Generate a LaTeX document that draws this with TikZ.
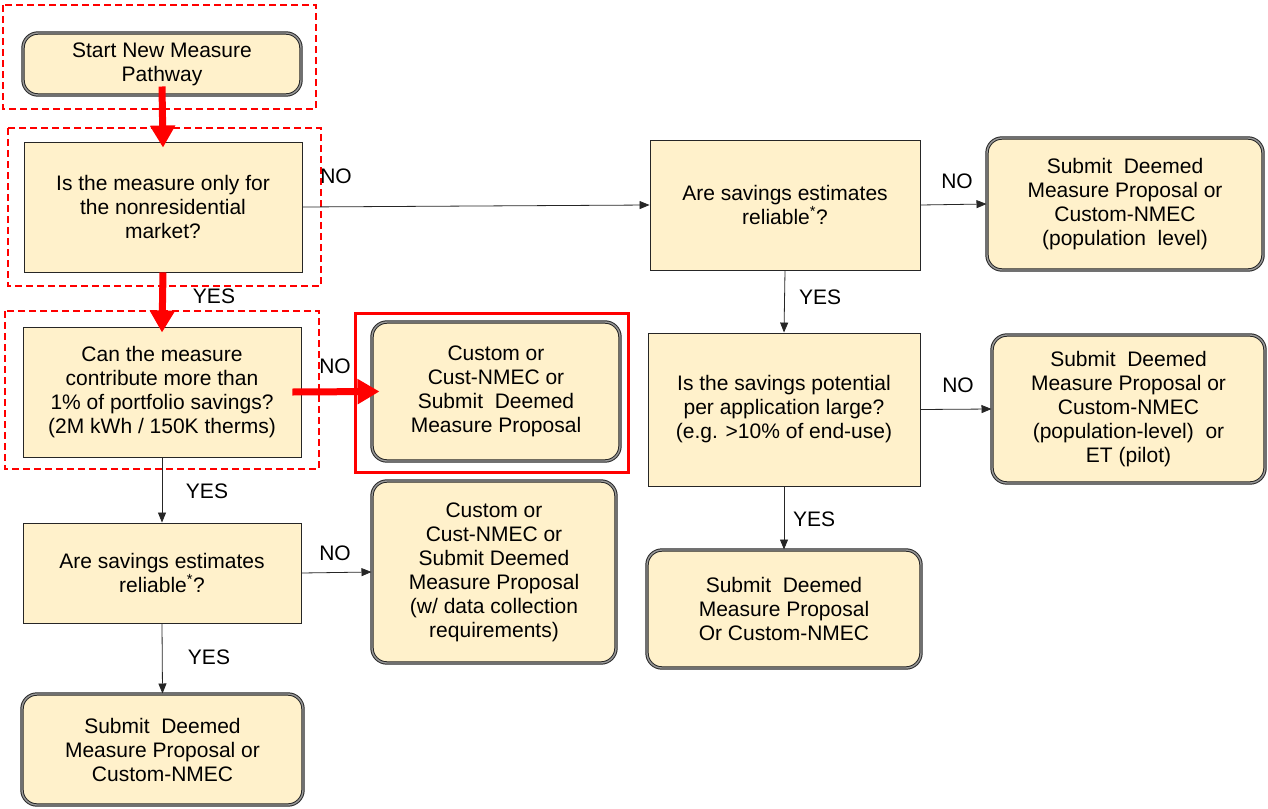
\documentclass[tikz,border=0pt]{standalone}
\usepackage{fontspec}
\setmainfont{Liberation Sans}
\usetikzlibrary{arrows.meta}
\definecolor{boxfill}{RGB}{255,241,203}
\definecolor{redline}{RGB}{255,0,0}
\tikzset{
  txt/.style={font=\fontsize{21}{24}\selectfont},
  qbox/.style={txt, rectangle, draw=black!85, line width=0.9pt, fill=boxfill, align=center, inner sep=0pt},
  rbox/.style={txt, rectangle, rounded corners=15pt, draw=black!85, double=black!40, double distance=1.4pt, line width=1pt, fill=boxfill, align=center, inner sep=0pt},
  arr/.style={draw=black!85, line width=0.8pt, -{Triangle[length=10pt,width=8pt]}},
  redarr/.style={draw=redline, line width=7pt, -{Triangle[length=22pt,width=24pt]}},
  reddash/.style={draw=redline, line width=2.4pt, dash pattern=on 7pt off 4pt},
  lbl/.style={txt, inner sep=0pt}
}
\begin{document}
\begin{tikzpicture}[x=1pt,y=-1pt]
\useasboundingbox (0,0) rectangle (1268,808);
% left column
\node[rbox, minimum width=278pt, minimum height=62pt] (start) at (162,64) {Start New Measure\\Pathway};
\node[qbox, minimum width=278pt, minimum height=130pt] (q1) at (163,207) {Is the measure only for\\the nonresidential\\market?};
\node[qbox, minimum width=278pt, minimum height=130pt] (q2) at (162,392) {Can the measure\\contribute more than\\1\% of portfolio savings?\\(2M kWh / 150K therms)};
\node[rbox, minimum width=248pt, minimum height=139pt] (c1) at (496,391.5) {Custom or\\Cust-NMEC or\\Submit\ \ Deemed\\Measure Proposal};
\node[qbox, minimum width=278pt, minimum height=100pt] (q3) at (162,573) {Are savings estimates\\reliable\textsuperscript{*}?};
\node[rbox, minimum width=244pt, minimum height=182pt] (c2) at (494,572) {Custom or\\Cust-NMEC or\\Submit Deemed\\Measure Proposal\\(w/ data collection\\requirements)};
\node[rbox, minimum width=281pt, minimum height=111pt] (s1) at (162.5,749.5) {Submit\ \ Deemed\\Measure Proposal or\\Custom-NMEC};
% right columns
\node[qbox, minimum width=270pt, minimum height=130pt] (rq1) at (785,205) {Are savings estimates\\reliable\textsuperscript{*}?};
\node[rbox, minimum width=276pt, minimum height=132pt] (rs1) at (1125,204) {Submit\ \ Deemed\\Measure Proposal or\\Custom-NMEC\\(population\ \ level)};
\node[qbox, minimum width=272pt, minimum height=153pt] (rq2) at (784,409.5) {Is the savings potential\\per application large?\\(e.g. >10\% of end-use)};
\node[rbox, minimum width=273pt, minimum height=148pt] (rs2) at (1128.5,409) {Submit\ \ Deemed\\Measure Proposal or\\Custom-NMEC\\(population-level)\ \ or\\ET (pilot)};
\node[rbox, minimum width=274pt, minimum height=118pt] (rs3) at (784,609) {Submit\ \ Deemed\\Measure Proposal\\Or Custom-NMEC};
% red frames
\draw[reddash] (3,5) rectangle (316,109);
\draw[reddash] (8,128) rectangle (321,286);
\draw[reddash] (5,311) rectangle (319,469);
\draw[draw=redline, line width=3pt] (355,313) rectangle (628,472);
% thin connectors
\draw[arr] (q1.east) -- (rq1.west);
\draw[arr] (rq1.east) -- (rs1.west);
\draw[arr] (rq1.south) -- (rq2.north);
\draw[arr] (rq2.east) -- (rs2.west);
\draw[arr] (rq2.south) -- (rs3.north);
\draw[arr] (q2.south) -- (q3.north);
\draw[arr] (q3.east) -- (c2.west);
\draw[arr] (q3.south) -- (s1.north);
% red connectors
\draw[redarr] ([yshift=9pt]start.south) -- ([yshift=-6pt]q1.north);
\draw[redarr] (q1.south) -- ([yshift=-6pt]q2.north);
\draw[redarr] ([xshift=-9pt]q2.east) -- ([xshift=8pt]c1.west);
% labels
\node[lbl] (l1) at (336,176) {NO};
\node[lbl] (l2) at (214,296) {YES};
\node[lbl] (l3) at (335,366) {NO};
\node[lbl] (l4) at (207,491) {YES};
\node[lbl] (l5) at (335,553) {NO};
\node[lbl] (l6) at (209,657) {YES};
\node[lbl] (l7) at (957,181) {NO};
\node[lbl] (l8) at (820,297) {YES};
\node[lbl] (l9) at (958,385) {NO};
\node[lbl] (l10) at (814,519) {YES};
\end{tikzpicture}
\end{document}
